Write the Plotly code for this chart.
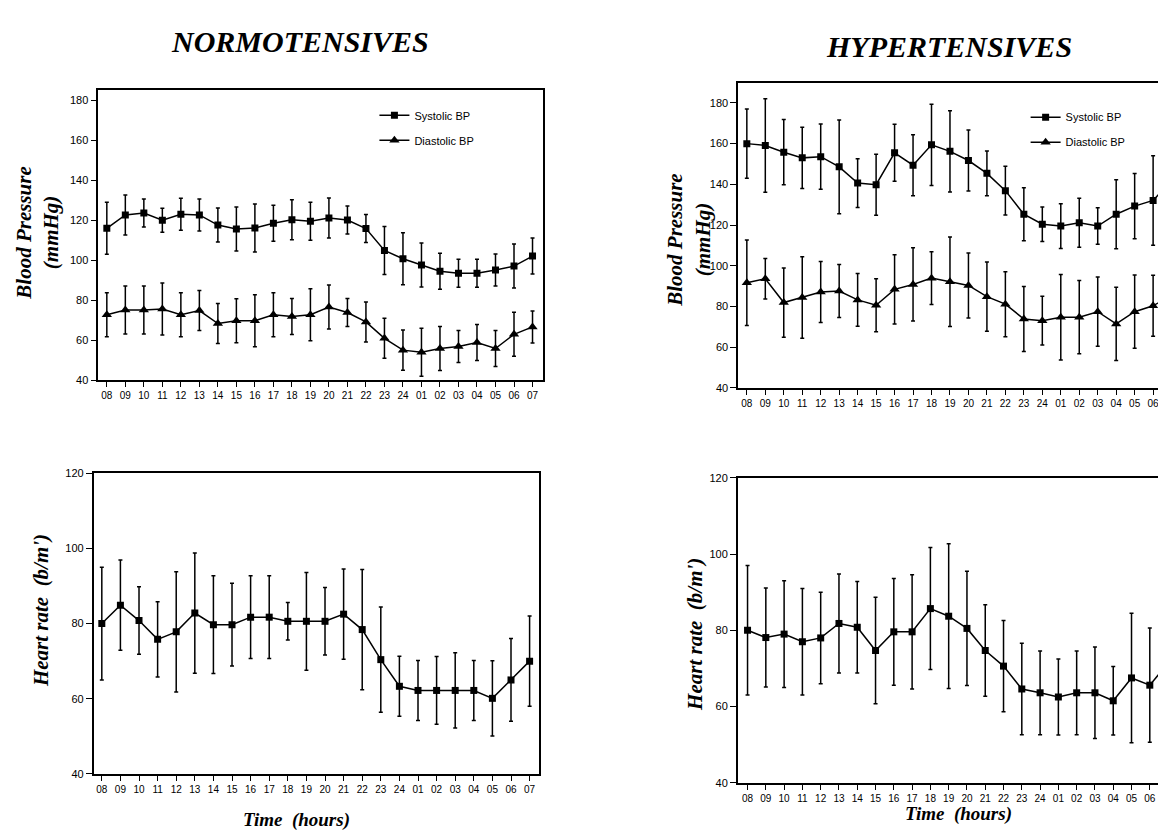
import plotly.graph_objects as go

hours = ["08","09","10","11","12","13","14","15","16","17","18","19","20","21","22","23","24","01","02","03","04","05","06","07"]

# Normotensives
nt_sys = [116,122.7,123.6,120,123,122.7,117.6,115.6,116.2,118.5,120.3,119.5,121.1,120.1,115.9,104.9,100.8,97.6,94.5,93.5,93.5,95.1,97.1,102.1]
nt_sys_sd = [13,10,7,6,8,8,8.5,11,12,9,10,9.5,10,7,7,12,13,11,9,7,7,8,11,9]
nt_dia = [72.8,75.2,75.2,75.6,72.8,74.9,68.4,69.8,69.8,72.8,71.9,72.8,76.6,73.9,69.2,61,55.1,54,55.9,56.9,58.9,55.9,63,66.7]
nt_dia_sd = [11,12,12,13,11,10,10,11,13,11,9,13,11,7,10,10,10,12,11,8,9,9,11,8]
nt_hr = [80,84.9,80.8,75.8,77.8,82.8,79.7,79.7,81.7,81.7,80.6,80.6,80.6,82.5,78.4,70.4,63.3,62.2,62.2,62.2,62.2,60.1,65,70]
nt_hr_sd = [15,12,9,10,16,16,13,11,11,11,5,13,9,12,16,14,8,8,9,10,8,10,11,12]

# Hypertensives
ht_sys = [160,159.1,155.8,153,153.6,148.6,140.6,139.8,155.5,149.4,159.4,156.2,151.7,145.4,136.9,125.3,120.4,119.5,121.1,119.5,125.3,129.3,132.1,142]
ht_sys_sd = [17,23,16,15,16,23,12,15,14,15,20,20,15,11,12,13,8.5,11,12,9,17,16,22,15]
ht_dia = [91.6,93.6,81.9,84.4,87.1,87.6,83.2,80.6,88.4,90.8,93.9,92.1,90.3,84.8,81.1,73.8,73,74.7,74.7,77.4,71.4,77.4,80.3,85.5]
ht_dia_sd = [21,10,17,20,15,13,13,13,17,18,13,22,16,17,16,16,12,21,18,17,18,18,15,15]
ht_hr = [80,78.1,79,77,78,81.8,80.8,74.7,79.6,79.6,85.7,83.7,80.5,74.7,70.6,64.6,63.6,62.5,63.6,63.6,61.5,67.5,65.6,71.4]
ht_hr_sd = [17,13,14,14,12,13,12,14,14,15,16,19,15,12,12,12,11,10,11,12,9,17,15,15]

bp_ticks = [40, 60, 80, 100, 120, 140, 160, 180]
hr_ticks = [40, 60, 80, 100, 120]

W, H = 1166, 830
SERIF = "Liberation Serif"
SANS = "Liberation Sans"


def px_x(p):
    return p / W


def px_y(p):
    return 1 - p / H


def err(sd):
    return dict(type="data", array=sd, visible=True, thickness=1.5, width=2, color="black")


fig = go.Figure()


def add(y, sd, xa, ya, sym, size, name, legend, show):
    fig.add_trace(go.Scatter(
        x=hours, y=y, xaxis=xa, yaxis=ya, mode="lines+markers",
        line=dict(color="black", width=1.5),
        marker=dict(symbol=sym, size=size, color="black"),
        error_y=err(sd), name=name, legend=legend, showlegend=show,
        legendgroup=name + legend,
    ))


add(nt_sys, nt_sys_sd, "x", "y", "square", 7, "Systolic BP", "legend", True)
add(nt_dia, nt_dia_sd, "x", "y", "triangle-up", 9, "Diastolic BP", "legend", True)
add(ht_sys, ht_sys_sd, "x2", "y2", "square", 7, "Systolic BP", "legend2", True)
add(ht_dia, ht_dia_sd, "x2", "y2", "triangle-up", 9, "Diastolic BP", "legend2", True)
add(nt_hr, nt_hr_sd, "x3", "y3", "square", 7, "HR", "legend", False)
add(ht_hr, ht_hr_sd, "x4", "y4", "square", 7, "HR", "legend", False)


def xaxis(dom, rng, anchor, mirror):
    return dict(domain=dom, range=rng, anchor=anchor, type="category",
                categoryorder="array", categoryarray=hours,
                showline=True, linecolor="black", linewidth=1.6, mirror=mirror,
                ticks="outside", ticklen=5, tickwidth=1.4, tickcolor="black",
                tickfont=dict(family=SANS, size=10, color="black"),
                showgrid=False, zeroline=False, fixedrange=True)


def yaxis(dom, rng, anchor, tv, mirror):
    return dict(domain=dom, range=rng, anchor=anchor, tickvals=tv,
                showline=True, linecolor="black", linewidth=1.6, mirror=mirror,
                ticks="outside", ticklen=6, tickwidth=1.4, tickcolor="black",
                tickfont=dict(family=SANS, size=11, color="black"),
                showgrid=False, zeroline=False, fixedrange=True)


fig.update_layout(
    width=W, height=H,
    margin=dict(l=0, r=0, t=0, b=0),
    paper_bgcolor="white", plot_bgcolor="white",
    xaxis=xaxis([px_x(90.7), px_x(537)], [-0.46, 23.55], "y", True),
    yaxis=yaxis([px_y(371.7), px_y(77)], [40, 185.2], "x", bp_ticks, True),
    xaxis2=xaxis([px_x(733.3), 1.0], [-0.47, 22.86], "y2", True),
    yaxis2=yaxis([px_y(379.3), px_y(70)], [40, 189.8], "x2", bp_ticks, False),
    xaxis3=xaxis([px_x(86), px_x(533)], [-0.44, 23.49], "y3", True),
    yaxis3=yaxis([px_y(771), px_y(466)], [40, 120], "x3", hr_ticks, True),
    xaxis4=xaxis([px_x(733), 1.0], [-0.53, 23.05], "y4", True),
    yaxis4=yaxis([px_y(780), px_y(470.7)], [40, 120], "x4", hr_ticks, False),
    legend=dict(x=px_x(368), y=px_y(88), xanchor="left", yanchor="top",
                font=dict(family=SANS, size=11, color="black"),
                bgcolor="rgba(0,0,0,0)", itemwidth=30, tracegroupgap=6),
    legend2=dict(x=px_x(1022), y=px_y(90), xanchor="left", yanchor="top",
                 font=dict(family=SANS, size=11, color="black"),
                 bgcolor="rgba(0,0,0,0)", itemwidth=30, tracegroupgap=6),
)

title_font = dict(family=SERIF, size=30, color="black")
lab_font = dict(family=SERIF, size=21, color="black")
time_font = dict(family=SERIF, size=19, color="black")

ann = [
    dict(text="<b><i>NORMOTENSIVES</i></b>", x=px_x(293), y=px_y(28), font=title_font),
    dict(text="<b><i>HYPERTENSIVES</i></b>", x=px_x(945), y=px_y(33), font=title_font),
    dict(text="<b><i>Blood Pressure</i></b><br><b><i>(mmHg)</i></b>", x=px_x(30), y=px_y(222),
         font=lab_font, textangle=-90),
    dict(text="<b><i>Blood Pressure</i></b><br><b><i>(mmHg)</i></b>", x=px_x(684), y=px_y(230),
         font=lab_font, textangle=-90),
    dict(text="<b><i>Heart rate  (b/m')</i></b>", x=px_x(33), y=px_y(605),
         font=lab_font, textangle=-90),
    dict(text="<b><i>Heart rate  (b/m')</i></b>", x=px_x(690), y=px_y(630),
         font=lab_font, textangle=-90),
    dict(text="<b><i>Time  (hours)</i></b>", x=px_x(290), y=px_y(818), font=time_font),
    dict(text="<b><i>Time  (hours)</i></b>", x=px_x(955), y=px_y(812), font=time_font),
]
for a in ann:
    a.update(xref="paper", yref="paper", showarrow=False, xanchor="center", yanchor="middle")
fig.update_layout(annotations=ann)

fig.write_html("out.html")
